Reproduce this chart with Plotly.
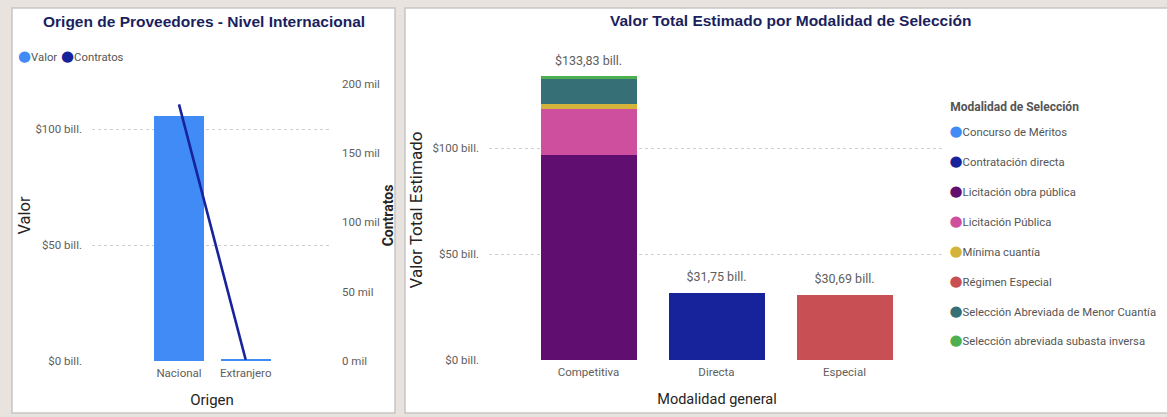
import plotly.graph_objects as go

W, H = 1167, 417

# ---------------- data ----------------
origen_cats = ["Nacional", "Extranjero"]
origen_valor = [105.7, 0.8]          # billones
origen_contratos = [185000, 900]     # contratos

left_y_tickvals = [0, 50, 100]
left_y_ticktext = ["$0 bill.", "$50 bill.", "$100 bill."]
left_y2_tickvals = [0, 50000, 100000, 150000, 200000]
left_y2_ticktext = ["0 mil", "50 mil", "100 mil", "150 mil", "200 mil"]

mod_cats = ["Competitiva", "Directa", "Especial"]
mod_series = [
    "Concurso de Méritos",
    "Contratación directa",
    "Licitación obra pública",
    "Licitación Pública",
    "Mínima cuantía",
    "Régimen Especial",
    "Selección Abreviada de Menor Cuantía",
    "Selección abreviada subasta inversa",
]
mod_values = {
    "Concurso de Méritos":                  [0.2, 0, 0],
    "Contratación directa":                 [0, 31.75, 0],
    "Licitación obra pública":              [96.6, 0, 0],
    "Licitación Pública":                   [21.7, 0, 0],
    "Mínima cuantía":                       [2.3, 0, 0],
    "Régimen Especial":                     [0, 0, 30.69],
    "Selección Abreviada de Menor Cuantía": [11.8, 0, 0],
    "Selección abreviada subasta inversa":  [1.23, 0, 0],
}
mod_totals_text = ["$133,83 bill.", "$31,75 bill.", "$30,69 bill."]
right_y_tickvals = [0, 50, 100]
right_y_ticktext = ["$0 bill.", "$50 bill.", "$100 bill."]

# ---------------- styles ----------------
colors = {
    "Concurso de Méritos": "#418bf7",
    "Contratación directa": "#17239b",
    "Licitación obra pública": "#600e70",
    "Licitación Pública": "#cf4f9f",
    "Mínima cuantía": "#d4b33a",
    "Régimen Especial": "#c85054",
    "Selección Abreviada de Menor Cuantía": "#376f77",
    "Selección abreviada subasta inversa": "#4caf50",
}
VALOR_COLOR = "#418bf7"
CONTR_COLOR = "#17239b"
SANS = "Roboto, Liberation Sans, Arial"
TITLE_FAM = "Liberation Sans, Arial"
TICK_FONT = dict(family=SANS, size=11.5, color="#605e5c")
LEG_FONT = dict(family=SANS, size=11.3, color="#555555")
GRID = "#cfcfcf"
TRANSP = "rgba(0,0,0,0)"


def px_x(p):
    return p / W


def px_y(p):
    return 1 - p / H


def dot_label(name, color):
    return (f"<span style='color:{color};font-family:DejaVu Sans;"
            f"font-size:15px'>\u25cf</span>{name}")


fig = go.Figure()

# ---------- left chart ----------
fig.add_trace(go.Bar(
    x=origen_cats, y=origen_valor, marker_color=VALOR_COLOR,
    marker_line_width=0, xaxis="x", yaxis="y", showlegend=False,
    name="Valor"))
fig.add_trace(go.Scatter(
    x=origen_cats, y=origen_contratos, mode="lines",
    line=dict(color=CONTR_COLOR, width=2.6), xaxis="x", yaxis="y2",
    showlegend=False, name="Contratos"))
for nm, c, lg in [("Valor", VALOR_COLOR, "legend2"),
                  ("Contratos", CONTR_COLOR, "legend3")]:
    fig.add_trace(go.Scatter(
        x=[None], y=[None], mode="markers", name=dot_label(nm, c),
        marker=dict(color=TRANSP, size=1),
        xaxis="x", yaxis="y", legend=lg, showlegend=True))

# ---------- right chart ----------
for s in mod_series:
    fig.add_trace(go.Bar(
        x=mod_cats, y=mod_values[s], name=s, marker_color=colors[s],
        marker_line_width=0, xaxis="x2", yaxis="y3", showlegend=False))
totals = [sum(mod_values[s][i] for s in mod_series) for i in range(len(mod_cats))]
fig.add_trace(go.Scatter(
    x=mod_cats, y=totals, mode="markers+text", text=mod_totals_text,
    textposition="top center", cliponaxis=False,
    marker=dict(size=12, color=TRANSP),
    textfont=dict(family=SANS, size=12.5, color="#605e5c"),
    xaxis="x2", yaxis="y3", showlegend=False, hoverinfo="skip"))
for i, s in enumerate(mod_series):
    fig.add_trace(go.Scatter(
        x=[None], y=[None], mode="markers", name=dot_label(s, colors[s]),
        marker=dict(color=TRANSP, size=1),
        xaxis="x2", yaxis="y3", legend="legend", legendgroup=f"g{i}",
        showlegend=True))

# ---------- panels ----------
shapes = [
    dict(type="rect", xref="paper", yref="paper",
         x0=px_x(12), x1=px_x(395), y0=px_y(413), y1=px_y(8),
         fillcolor="white", line=dict(color="#c6c6c6", width=1.5), layer="below"),
    dict(type="rect", xref="paper", yref="paper",
         x0=px_x(405), x1=px_x(1172), y0=px_y(413), y1=px_y(8),
         fillcolor="white", line=dict(color="#c6c6c6", width=1.5), layer="below"),
]

# left geometry
L_x0, L_x1 = 92, 332
L_yb, L_yt = 361, 70
L_unit = 66.7
L_c0 = 179
L_r0 = -(L_c0 - L_x0) / L_unit
L_r1 = L_r0 + (L_x1 - L_x0) / L_unit
L_pp_val = 2.317          # px per bill
L_pp_con = 1.387 / 1000   # px per contrato

# right geometry
R_x0, R_x1 = 489, 945
R_yb, R_yt = 360, 60
R_unit = 128
R_c0 = 588.5
R_r0 = -(R_c0 - R_x0) / R_unit
R_r1 = R_r0 + (R_x1 - R_x0) / R_unit
R_pp = 2.12

common_x = dict(showgrid=False, zeroline=False, showline=False,
                tickfont=TICK_FONT, ticks="", ticklabelstandoff=3,
                automargin=False, fixedrange=True)
common_y = dict(tickfont=TICK_FONT, zeroline=False, showline=False,
                ticks="", automargin=False, fixedrange=True)

legend_title = (" <br><span style='font-size:12px'>" + "&nbsp;" * 13
                + "<b>Modalidad de Selección</b></span><br> ")

fig.update_layout(
    width=W, height=H,
    margin=dict(l=0, r=0, t=0, b=0, autoexpand=False),
    paper_bgcolor="#e9e3df",
    plot_bgcolor=TRANSP,
    barmode="stack",
    bargap=0.25,
    shapes=shapes,
    font=dict(family=SANS),
    xaxis=dict(domain=[px_x(L_x0), px_x(L_x1)], anchor="y",
               range=[L_r0, L_r1],
               title=dict(text="Origen", standoff=15,
                          font=dict(family=SANS, size=15, color="#252423")),
               **common_x),
    yaxis=dict(domain=[px_y(L_yb), px_y(L_yt)], anchor="x",
               range=[0, (L_yb - L_yt) / L_pp_val],
               tickvals=left_y_tickvals, ticktext=left_y_ticktext,
               showgrid=True, gridcolor=GRID, griddash="dot", gridwidth=1,
               ticklabelstandoff=9,
               title=dict(text="Valor", standoff=0,
                          font=dict(family=SANS, size=16.5, color="#252423")),
               **common_y),
    yaxis2=dict(domain=[px_y(L_yb), px_y(L_yt)], anchor="x",
                overlaying="y", side="right",
                range=[0, (L_yb - L_yt) / L_pp_con],
                tickvals=left_y2_tickvals, ticktext=left_y2_ticktext,
                showgrid=False, ticklabelstandoff=9,
                title=dict(text="<b>Contratos</b>",
                           font=dict(family=SANS, size=14, color="#252423"),
                           standoff=3),
                **common_y),
    xaxis2=dict(domain=[px_x(R_x0), px_x(R_x1)], anchor="y3",
                range=[R_r0, R_r1],
                title=dict(text="Modalidad general", standoff=16,
                           font=dict(family=SANS, size=14.5, color="#252423")),
                **common_x),
    yaxis3=dict(domain=[px_y(R_yb), px_y(R_yt)], anchor="x2",
                range=[0, (R_yb - R_yt) / R_pp],
                tickvals=right_y_tickvals, ticktext=right_y_ticktext,
                showgrid=True, gridcolor=GRID, griddash="dot", gridwidth=1,
                ticklabelstandoff=9,
                title=dict(text="Valor Total Estimado", standoff=5,
                           font=dict(family=SANS, size=17, color="#252423")),
                **common_y),
    legend=dict(x=px_x(909.5), y=px_y(98), xanchor="left", yanchor="top",
                bgcolor=TRANSP,
                title=dict(text=legend_title,
                           font=dict(family=SANS, size=5, color="#555555")),
                font=LEG_FONT, tracegroupgap=10.85, itemwidth=30),
    legend2=dict(x=px_x(-22), y=px_y(42), xanchor="left", yanchor="top",
                 bgcolor=TRANSP, font=LEG_FONT, itemwidth=30),
    legend3=dict(x=px_x(21), y=px_y(42), xanchor="left", yanchor="top",
                 bgcolor=TRANSP, font=LEG_FONT, itemwidth=30),
    annotations=[
        dict(text="<b>Origen de Proveedores - Nivel Internacional</b>",
             xref="paper", yref="paper", x=px_x(204), y=px_y(21),
             xanchor="center", yanchor="middle", showarrow=False,
             font=dict(family=TITLE_FAM, size=15.5, color="#1b1f5e")),
        dict(text="<b>Valor Total Estimado por Modalidad de Selección</b>",
             xref="paper", yref="paper", x=px_x(790), y=px_y(20),
             xanchor="center", yanchor="middle", showarrow=False,
             font=dict(family=TITLE_FAM, size=15.5, color="#1b1f5e")),
    ],
)

fig.write_html("out.html",
               config={"displayModeBar": False},
               post_script="document.body.style.margin='0px';"
                           "document.body.style.background='#e9e3df';")
